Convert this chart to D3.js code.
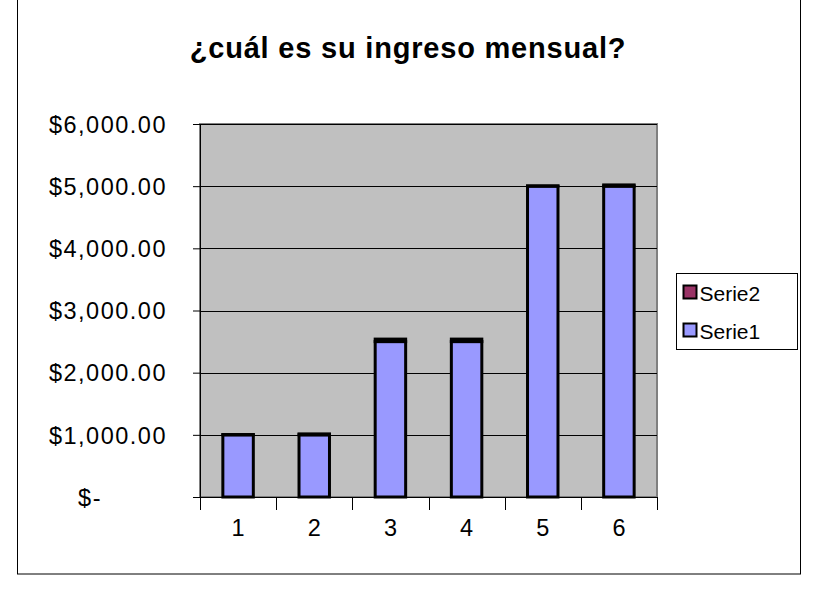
<!DOCTYPE html>
<html>
<head>
<meta charset="utf-8">
<script src="https://cdn.jsdelivr.net/npm/d3@7"></script>
<style>
  body { margin: 0; background: #fff; }
  text { font-family: "Liberation Sans", Arial, sans-serif; fill: #000; }
</style>
</head>
<body>
<script>
(function(){

    //chart data
    var categories = ["1", "2", "3", "4", "5", "6"];
    var serie1 = [1000, 1000, 2500, 2500, 5000, 5000];
    var serie2 = [5, 15, 40, 40, 5, 20];
    var seriesNames = ["Serie1", "Serie2"];
    var seriesColors = ["#9999FF", "#993366"];
    var yTicks = [0, 1000, 2000, 3000, 4000, 5000, 6000];

window.onload = drawChart();

function drawChart(){

    var width = 815,
        height = 591;

    var svg = d3.select("body")
        .append("svg")
        .attr("width", width)
        .attr("height", height);

    //outer chart border
    svg.append("rect")
        .attr("x", 17.5)
        .attr("y", -2)
        .attr("width", 783)
        .attr("height", 576)
        .attr("fill", "#fff")
        .attr("stroke", "#000")
        .attr("stroke-width", 1);

    //title
    svg.append("text")
        .attr("x", 408)
        .attr("y", 58)
        .attr("text-anchor", "middle")
        .style("font-size", "29px")
        .style("font-weight", "bold")
        .style("letter-spacing", "0.8px")
        .text("¿cuál es su ingreso mensual?");

    //plot area
    var plot = {left: 200, top: 124, right: 657, bottom: 497};

    var x = d3.scaleBand()
        .domain(categories)
        .range([plot.left, plot.right])
        .paddingInner(0.6)
        .paddingOuter(0.3);

    var xBand = d3.scaleBand()
        .domain(categories)
        .range([plot.left, plot.right]);

    var y = d3.scaleLinear()
        .domain([0, 6000])
        .range([plot.bottom, plot.top]);

    svg.append("rect")
        .attr("x", plot.left)
        .attr("y", plot.top)
        .attr("width", plot.right - plot.left)
        .attr("height", plot.bottom - plot.top)
        .attr("fill", "#C0C0C0")
        .attr("stroke", "#808080")
        .attr("stroke-width", 2);

    //gridlines
    svg.selectAll(".grid")
        .data(yTicks.slice(1))
        .enter()
        .append("line")
        .attr("class", "grid")
        .attr("x1", plot.left)
        .attr("x2", plot.right)
        .attr("y1", function(d){ return Math.round(y(d)) + 0.5; })
        .attr("y2", function(d){ return Math.round(y(d)) + 0.5; })
        .attr("stroke", "#000")
        .attr("stroke-width", 1);

    //stacked bars
    var table = categories.map(function(c, i){
        return {cat: c, Serie1: serie1[i], Serie2: serie2[i]};
    });
    var stacked = d3.stack().keys(seriesNames)(table);

    svg.selectAll(".layer")
        .data(stacked)
        .enter()
        .append("g")
        .attr("class", "layer")
        .attr("fill", function(d, i){ return seriesColors[i]; })
        .selectAll("rect")
        .data(function(d){ return d; })
        .enter()
        .append("rect")
        .attr("x", function(d){ return x(d.data.cat); })
        .attr("y", function(d){ return y(d[1]); })
        .attr("width", x.bandwidth())
        .attr("height", function(d){ return y(d[0]) - y(d[1]); })
        .attr("stroke", "#000")
        .attr("stroke-width", 3);

    //y axis
    var yAxis = d3.axisLeft(y)
        .tickValues(yTicks)
        .tickSize(7)
        .tickPadding(26)
        .tickFormat(function(d){ return d === 0 ? "$-" : "$" + d3.format(",.2f")(d); });

    var yg = svg.append("g")
        .attr("transform", "translate(" + plot.left + ",0)")
        .call(yAxis);
    yg.select(".domain").attr("stroke", "#000").attr("d", "M0.5," + plot.top + "V" + plot.bottom);
    yg.selectAll("text")
        .style("font-size", "23.5px")
        .style("letter-spacing", "1.5px")
        .attr("dy", "0.35em");
    yg.selectAll(".tick")
        .filter(function(d){ return d === 0; })
        .select("text")
        .attr("x", -98)
        .attr("text-anchor", "end");

    //x axis
    var xAxis = d3.axisBottom(xBand)
        .tickSize(0)
        .tickPadding(22);

    var xg = svg.append("g")
        .attr("transform", "translate(0," + plot.bottom + ")")
        .call(xAxis);
    xg.select(".domain").attr("stroke", "#000").attr("d", "M" + (plot.left - 7) + ",0.5H" + plot.right);
    xg.selectAll("text").style("font-size", "23.5px");

    //category boundary ticks
    var bounds = categories.map(function(c){ return xBand(c); }).concat([plot.right]);
    xg.selectAll(".bound")
        .data(bounds)
        .enter()
        .append("line")
        .attr("class", "bound")
        .attr("x1", function(d){ return Math.round(d) + 0.5; })
        .attr("x2", function(d){ return Math.round(d) + 0.5; })
        .attr("y1", 0)
        .attr("y2", 13)
        .attr("stroke", "#000");

    //legend
    var legend = svg.append("g")
        .attr("transform", "translate(676.5,273.5)");

    legend.append("rect")
        .attr("width", 121)
        .attr("height", 76)
        .attr("fill", "#fff")
        .attr("stroke", "#000");

    var legendItems = [
        {name: seriesNames[1], color: seriesColors[1]},
        {name: seriesNames[0], color: seriesColors[0]}
    ];

    var entries = legend.selectAll(".entry")
        .data(legendItems)
        .enter()
        .append("g")
        .attr("class", "entry")
        .attr("transform", function(d, i){ return "translate(7," + (12 + i * 38) + ")"; });

    entries.append("rect")
        .attr("width", 13)
        .attr("height", 13)
        .attr("fill", function(d){ return d.color; })
        .attr("stroke", "#000")
        .attr("stroke-width", 2);

    entries.append("text")
        .attr("x", 16)
        .attr("y", 15)
        .style("font-size", "21px")
        .text(function(d){ return d.name; });
}

})();
</script>
</body>
</html>
